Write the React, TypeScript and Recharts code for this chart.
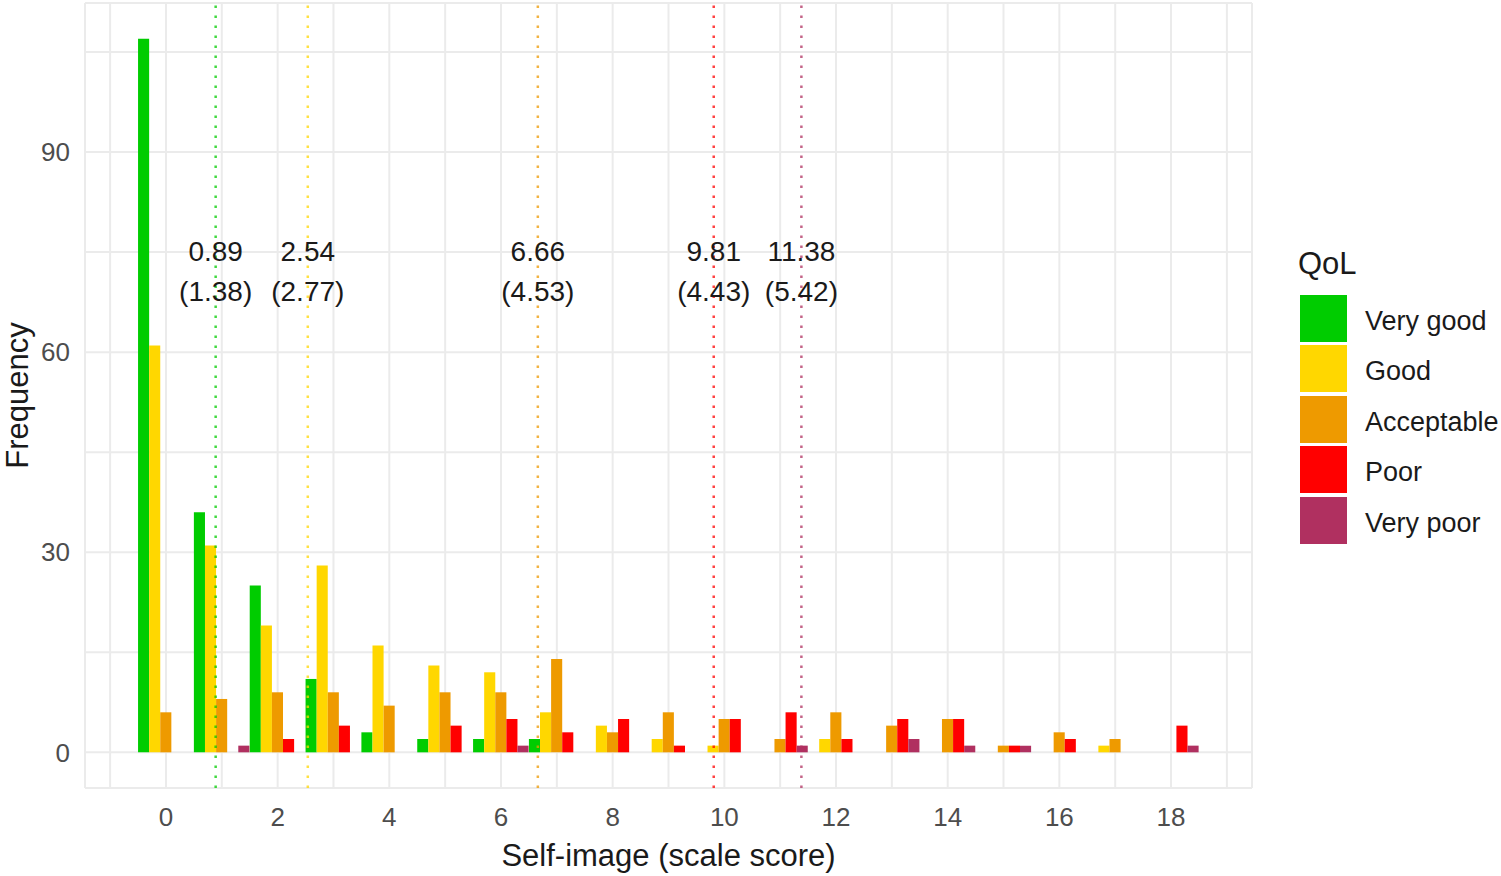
import { BarChart, Bar, XAxis, YAxis, CartesianGrid, ReferenceLine } from 'recharts';

// Self-image score (0..18) frequency by QoL group
const scores = [0, 1, 2, 3, 4, 5, 6, 7, 8, 9, 10, 11, 12, 13, 14, 15, 16, 17, 18];
const veryGood = [107, 36, 25, 11, 3, 2, 2, 2, 0, 0, 0, 0, 0, 0, 0, 0, 0, 0, 0];
const good = [61, 31, 19, 28, 16, 13, 12, 6, 4, 2, 1, 0, 2, 0, 0, 0, 0, 1, 0];
const acceptable = [6, 8, 9, 9, 7, 9, 9, 14, 3, 6, 5, 2, 6, 4, 5, 1, 3, 2, 0];
const poor = [0, 0, 2, 4, 0, 4, 5, 3, 5, 1, 5, 6, 2, 5, 5, 1, 2, 0, 4];
const veryPoor = [0, 1, 0, 0, 0, 0, 1, 0, 0, 0, 0, 1, 0, 2, 1, 1, 0, 0, 1];

const qolLevels = ['Very good', 'Good', 'Acceptable', 'Poor', 'Very poor'];
const qolKeys = ['veryGood', 'good', 'acceptable', 'poor', 'veryPoor'];
const qolColors = ['#00CC00', '#FFD700', '#EE9A00', '#FF0000', '#B03060'];

// group means and SDs shown as dotted lines
const meanScores = [0.89, 2.54, 6.66, 9.81, 11.38];
const sdScores = [1.38, 2.77, 4.53, 4.43, 5.42];

const xTicks = [-1, 0, 1, 2, 3, 4, 5, 6, 7, 8, 9, 10, 11, 12, 13, 14, 15, 16, 17, 18, 19];
const yTicks = [0, 15, 30, 45, 60, 75, 90, 105];

const FONT = "'Liberation Sans', Arial, sans-serif";

const data = scores.map((x, i) => ({
  x,
  veryGood: veryGood[i],
  good: good[i],
  acceptable: acceptable[i],
  poor: poor[i],
  veryPoor: veryPoor[i],
}));

const MeanLabel = ({ viewBox, mean, sd }: any) => {
  const x = viewBox.x;
  const y = viewBox.y;
  return (
    <g>
      <text x={x} y={y + 248} textAnchor="middle" dominantBaseline="central" fontSize={28} fill="#1A1A1A">
        {mean.toFixed(2)}
      </text>
      <text x={x} y={y + 288} textAnchor="middle" dominantBaseline="central" fontSize={28} fill="#1A1A1A">
        ({sd.toFixed(2)})
      </text>
    </g>
  );
};

const App = () => {
  return (
    <div style={{ position: 'absolute', left: 0, top: 0, width: 1501, height: 876, fontFamily: FONT, background: '#fff' }}>
      <BarChart
        width={1501}
        height={876}
        data={data}
        margin={{ top: 3, right: 249, left: 0, bottom: 0 }}
        barGap={0}
        barCategoryGap={0}
      >
        <CartesianGrid stroke="#EBEBEB" strokeWidth={2} />
        <XAxis
          dataKey="x"
          type="number"
          domain={[-1.45, 19.45]}
          ticks={xTicks}
          interval={0}
          allowDataOverflow
          tickFormatter={(v: number) => (v >= 0 && v <= 18 && v % 2 === 0 ? String(v) : '')}
          axisLine={false}
          tickLine={false}
          tickMargin={14}
          height={88}
          tick={{ fill: '#4D4D4D', fontSize: 26 }}
          label={({ viewBox }: any) => (
            <text
              x={viewBox.x + viewBox.width / 2}
              y={viewBox.y + 67}
              textAnchor="middle"
              dominantBaseline="central"
              fontSize={31}
              fill="#1A1A1A"
            >
              Self-image (scale score)
            </text>
          )}
        />
        <YAxis
          type="number"
          domain={[-5.35, 112.35]}
          ticks={yTicks}
          interval={0}
          allowDataOverflow
          tickFormatter={(v: number) => (v % 30 === 0 ? String(v) : '')}
          axisLine={false}
          tickLine={false}
          tickMargin={9}
          width={85}
          tick={{ fill: '#4D4D4D', fontSize: 26 }}
          label={({ viewBox }: any) => (
            <text
              x={17}
              y={viewBox.y + viewBox.height / 2}
              transform={`rotate(-90 17 ${viewBox.y + viewBox.height / 2})`}
              textAnchor="middle"
              dominantBaseline="central"
              fontSize={31}
              fill="#1A1A1A"
            >
              Frequency
            </text>
          )}
        />
        {qolKeys.map((k, i) => (
          <Bar key={k} dataKey={k} name={qolLevels[i]} fill={qolColors[i]} barSize={11.1} isAnimationActive={false} />
        ))}
        {meanScores.map((m, i) => (
          <ReferenceLine
            key={'mean' + i}
            x={m}
            stroke={qolColors[i]}
            strokeOpacity={0.75}
            strokeWidth={2.5}
            strokeDasharray="2.5 7.5"
            label={(props: any) => <MeanLabel {...props} mean={m} sd={sdScores[i]} />}
          />
        ))}
      </BarChart>

      {/* legend */}
      <div style={{ position: 'absolute', left: 1298, top: 243, color: '#1A1A1A' }}>
        <div style={{ fontSize: 31, lineHeight: '42px', marginBottom: 8 }}>QoL</div>
        {qolLevels.map((lvl, i) => (
          <div key={lvl} style={{ display: 'flex', alignItems: 'center', height: 50.5 }}>
            <div style={{ width: 47, height: 47, background: qolColors[i], marginLeft: 2, marginRight: 18 }} />
            <span style={{ fontSize: 27, position: 'relative', top: 3 }}>{lvl}</span>
          </div>
        ))}
      </div>
    </div>
  );
};

export default App;
